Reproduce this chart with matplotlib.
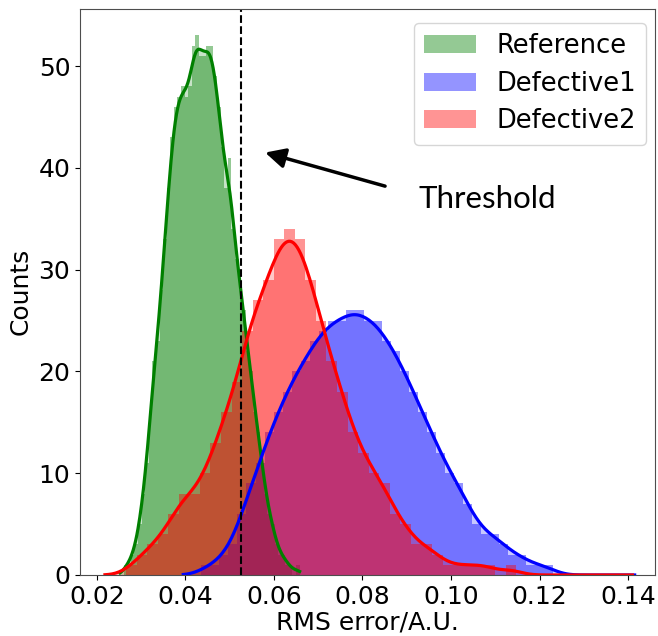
import numpy as np
import matplotlib

matplotlib.use("Agg")
import matplotlib.pyplot as plt
from matplotlib.patches import Patch

# series names / colours
labels = ["Reference", "Defective1", "Defective2"]
colors = ["green", "blue", "red"]

# sample range (min, max) of each series, 50 bins each
ref_range = (0.0252, 0.0658)
def1_range = (0.0395, 0.1415)
def2_range = (0.0218, 0.1410)
n_bins = 50

# histogram counts
ref_counts = [0, 1, 1, 2, 3, 5, 8, 11, 16, 21,
              23, 28, 33, 38, 43, 46, 47, 48, 47, 48,
              52, 53, 51, 51, 52, 52, 49, 46, 42, 38,
              41, 34, 31, 28, 26, 22, 20, 16, 14, 11,
              8, 6, 5, 3, 2, 2, 1, 1, 0, 1]
def1_counts = [0, 0, 1, 1, 2, 3, 6, 9, 11, 14,
               16, 18, 20, 21, 23, 24, 25, 25, 26, 26,
               25, 25, 23, 22, 20, 18, 16, 14, 12, 10,
               9, 7, 5, 4, 4, 3, 2, 2, 1, 1,
               1, 0, 0, 0, 0, 0, 0, 0, 0, 0]
def2_counts = [0, 0, 1, 2, 3, 4, 6, 8, 8, 10,
               13, 16, 19, 24, 27, 29, 33, 34, 33, 29,
               25, 21, 18, 14, 12, 10, 9, 6, 5, 3,
               3, 2, 1, 1, 1, 1, 1, 0, 1, 0,
               0, 0, 0, 0, 0, 0, 0, 0, 0, 0]

threshold = 0.0525
bw_adjust = 0.6


def kde_curve(edges, counts, n_grid=300):
    # gaussian KDE (Scott's rule * bw_adjust) scaled to counts, cut at the data range
    centers = 0.5 * (edges[:-1] + edges[1:])
    w = np.asarray(counts, dtype=float)
    n = w.sum()
    mean = (w * centers).sum() / n
    std = np.sqrt((w * (centers - mean) ** 2).sum() / n)
    bw = bw_adjust * std * n ** (-1 / 5)
    grid = np.linspace(edges[0], edges[-1], n_grid)
    z = (grid[:, None] - centers[None, :]) / bw
    dens = (w[None, :] * np.exp(-0.5 * z ** 2)).sum(axis=1) / (n * bw * np.sqrt(2 * np.pi))
    return grid, dens * n * (edges[1] - edges[0])


fig = plt.figure(figsize=(6.58, 6.36), dpi=100)
ax = fig.add_axes([80 / 658, 61 / 636, 575 / 658, 566.5 / 636])

series = [
    (ref_range, ref_counts),
    (def1_range, def1_counts),
    (def2_range, def2_counts),
]
for (rng, counts), color in zip(series, colors):
    edges = np.linspace(rng[0], rng[1], n_bins + 1)
    ax.stairs(counts, edges, fill=True, color=color, alpha=0.42, linewidth=0)
    gx, gy = kde_curve(edges, counts)
    ax.fill_between(gx, gy, color=color, alpha=0.22, linewidth=0)
    ax.plot(gx, gy, color=color, lw=2.3)

ax.axvline(threshold, color="black", ls="--", lw=1.5)

ax.annotate("", xy=(0.0580, 41.5), xytext=(0.0851, 38.2),
            arrowprops=dict(arrowstyle="-|>", color="black", lw=2.5,
                            mutation_scale=30, shrinkA=0, shrinkB=0))
ax.text(0.0926, 36.1, "Threshold", fontsize=22.5, family=["Lato", "DejaVu Sans"],
        ha="left", va="baseline")

ax.set_xlim(0.01616, 0.1461)
ax.set_ylim(0, 55.65)
ax.set_xticks([0.02, 0.04, 0.06, 0.08, 0.10, 0.12, 0.14])
ax.set_xticklabels(["0.02", "0.04", "0.06", "0.08", "0.10", "0.12", "0.14"])
ax.set_yticks([0, 10, 20, 30, 40, 50])
ax.tick_params(labelsize=18)
ax.set_xlabel("RMS error/A.U.", fontsize=18, labelpad=1)
ax.set_ylabel("Counts", fontsize=18)
for sp in ax.spines.values():
    sp.set_color("0.3")

handles = [Patch(facecolor=c, alpha=0.42, label=l) for c, l in zip(colors, labels)]
ax.legend(handles=handles, loc="upper right", fontsize=18.5, labelspacing=0.45,
          bbox_to_anchor=(646 / 658, 613 / 636), bbox_transform=fig.transFigure,
          borderaxespad=0)

fig.savefig("out.png", dpi=100)
